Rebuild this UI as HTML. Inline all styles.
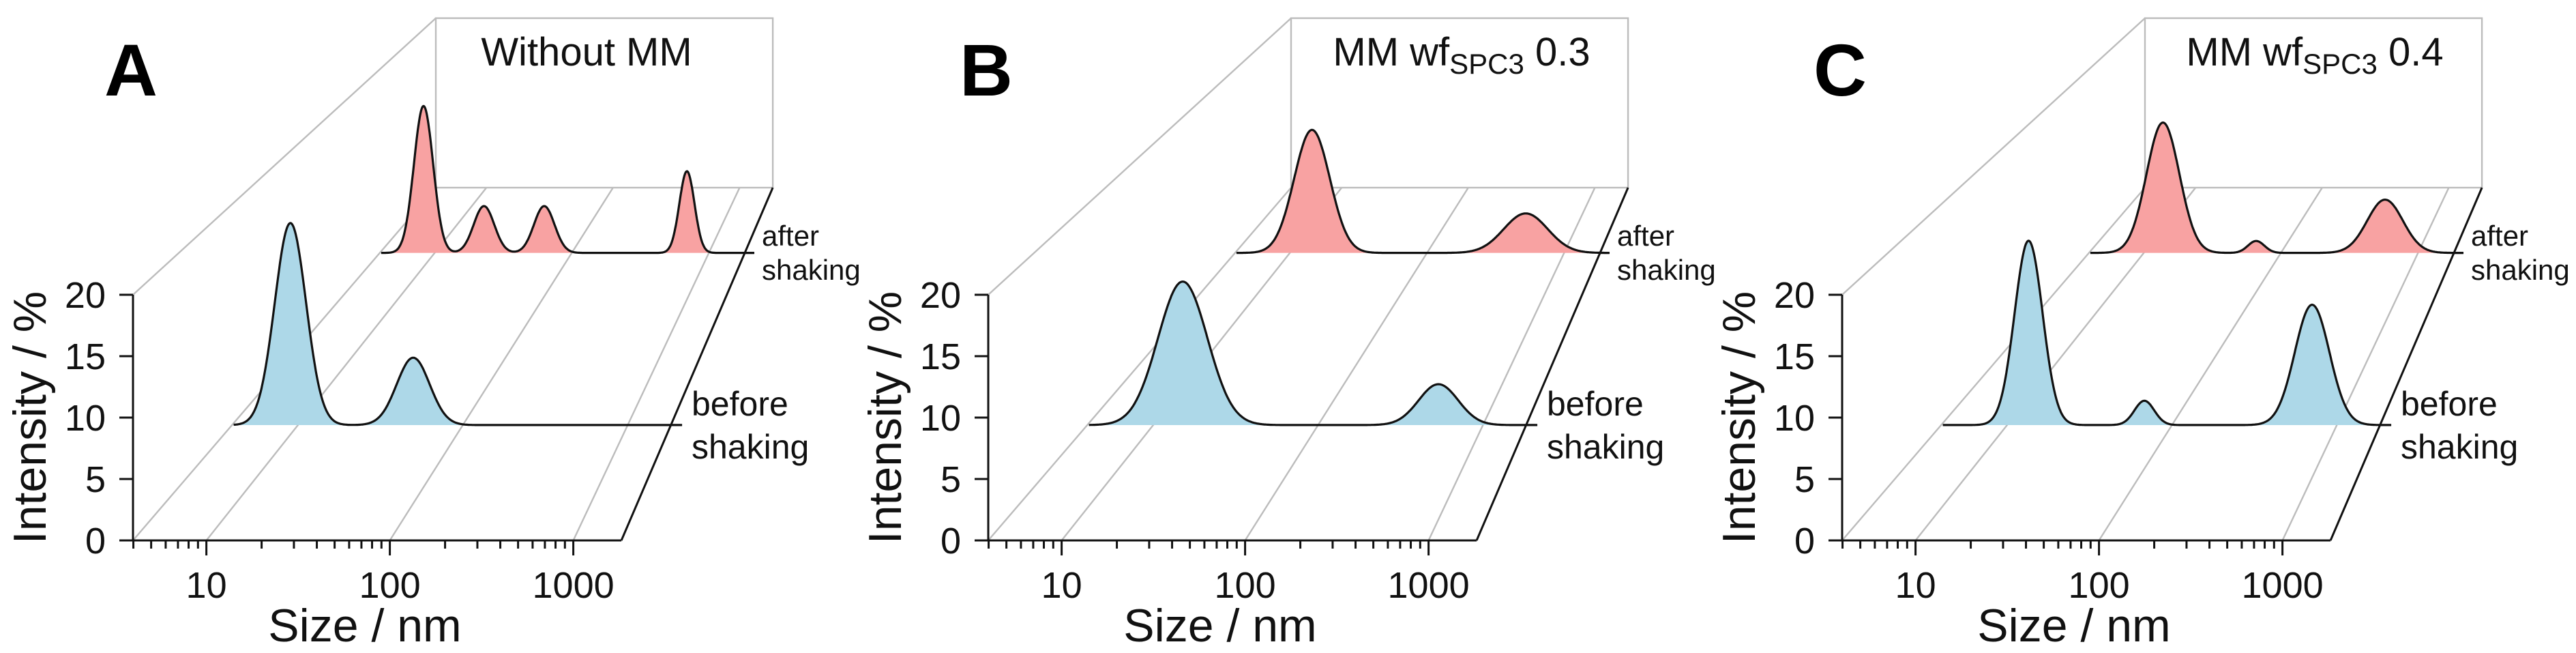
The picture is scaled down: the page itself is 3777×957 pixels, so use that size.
<!DOCTYPE html>
<html><head><meta charset="utf-8">
<style>
html,body{margin:0;padding:0;background:#fff;overflow:hidden;}
svg{display:block;font-family:"Liberation Sans",Arial,sans-serif;}
</style></head>
<body>
<svg id="fig" width="3777" height="957" viewBox="0 0 3777 957" xmlns="http://www.w3.org/2000/svg"></svg>
<script>
// Panel data: peak centres (nm), heights (%), widths (decades sigma)
const panelLetters = ["A", "B", "C"];
const panelTitles = ["Without MM", "MM wf", "MM wf"];
const panelTitleSuffix = ["", " 0.3", " 0.4"];
const beforeCenters = [[9.0, 50], [15.1, 537], [13.5, 68, 708]];
const beforeHeights = [[18.3, 6.1], [13.0, 3.7], [16.7, 2.2, 10.9]];
const beforeWidths = [[0.095, 0.1], [0.15, 0.12], [0.085, 0.06, 0.105]];
const afterCenters = [[8.3, 22.9, 63, 692], [14.5, 525], [13.8, 66, 575]];
const afterHeights = [[16.0, 5.1, 5.1, 8.9], [13.4, 4.3], [14.2, 1.3, 5.8]];
const afterWidths = [[0.07, 0.075, 0.075, 0.055], [0.13, 0.16], [0.12, 0.06, 0.13]];
const yTicks = [0, 5, 10, 15, 20];
const xTickLabels = ["10", "100", "1000"];
const xTickValues = [10, 100, 1000];

const NS = "http://www.w3.org/2000/svg";
const svg = document.getElementById("fig");
const panelX = [195, 1449, 2701];
const titleDx = [665, 694, 693];
const LMIN = 0.6, LMAX = 3.262, DEC = 269, Y0 = 792, UNIT = 18.0, DEPTH_Y = 517;
const D_BEFORE = 0.327, D_AFTER = 0.815;

function el(tag, attrs, parent) {
  const e = document.createElementNS(NS, tag);
  for (const k in attrs) e.setAttribute(k, attrs[k]);
  (parent || svg).appendChild(e);
  return e;
}
function proj(X0, lx, z, d) {
  const s = 1 - 0.31 * d;
  return [X0 + d * 444 + (lx - LMIN) * DEC * s, Y0 - d * DEPTH_Y - z * UNIT * s];
}
function seriesPath(X0, centers, heights, widths, d, l0, l1) {
  const pts = [];
  for (let i = 0; i <= 600; i++) {
    const lx = l0 + (l1 - l0) * i / 600;
    let z = 0;
    for (let k = 0; k < centers.length; k++) {
      const c = Math.log10(centers[k]);
      z += heights[k] * Math.exp(-0.5 * Math.pow((lx - c) / widths[k], 2));
    }
    pts.push(proj(X0, lx, z, d));
  }
  return pts;
}

for (let p = 0; p < 3; p++) {
  const X0 = panelX[p];
  const g = el("g", {});
  
  
  const gray = {stroke: "#bcbcbc", "stroke-width": 2.4, fill: "none"};
  const bl = proj(X0, LMIN, 0, 1), br = proj(X0, LMAX, 0, 1), bt = proj(X0, LMIN, 20, 1);
  const back = el("rect", Object.assign({x: bl[0], y: bt[1], width: br[0] - bl[0], height: bl[1] - bt[1]}, gray), g);
  
  
  const ft = proj(X0, LMIN, 20, 0);
  const diag = el("line", Object.assign({x1: ft[0], y1: ft[1], x2: bt[0], y2: bt[1]}, gray), g);
  
  
  const gl = [LMIN, 1, 2, 3];
  for (const lx of gl) {
    const a = proj(X0, lx, 0, 0), b = proj(X0, lx, 0, 1);
    const ln = el("line", Object.assign({x1: a[0], y1: a[1], x2: b[0], y2: b[1]}, gray), g);
    
    
  }
  const r0 = proj(X0, LMAX, 0, 0), r1 = proj(X0, LMAX, 0, 1);
  const re = el("line", {x1: r0[0], y1: r0[1], x2: r1[0], y2: r1[1], stroke: "#111", "stroke-width": 3}, g);
  
  
  for (const dd of [D_BEFORE, D_AFTER]) {
    const q = proj(X0, LMAX, 0, dd);
    const tk = el("line", {x1: q[0], y1: q[1], x2: q[0] + 14, y2: q[1], stroke: "#111", "stroke-width": 3}, g);
    
    
  }
  const series = [
    {c: afterCenters[p], h: afterHeights[p], w: afterWidths[p], d: D_AFTER, fill: "#f8a2a2", name: "after-shaking-series"},
    {c: beforeCenters[p], h: beforeHeights[p], w: beforeWidths[p], d: D_BEFORE, fill: "#add8e8", name: "before-shaking-series"}
  ];
  for (const s of series) {
    const pts = seriesPath(X0, s.c, s.h, s.w, s.d, 0.61, 3.33);
    const line = pts.map((q, i) => (i ? "L" : "M") + q[0].toFixed(1) + " " + q[1].toFixed(1)).join("");
    const a = proj(X0, 0.61, 0, s.d), b = proj(X0, 3.33, 0, s.d);
    const f = el("path", {d: line + "L" + b[0] + " " + b[1] + "L" + a[0] + " " + a[1] + "Z", fill: s.fill, stroke: "none"}, g);
    
    
    const l = el("path", {d: line, fill: "none", stroke: "#111", "stroke-width": 3.2, "stroke-linejoin": "round"}, g);
    
    
  }
  const ya = el("line", {x1: X0, y1: Y0 + 1, x2: X0, y2: proj(X0, LMIN, 20, 0)[1], stroke: "#111", "stroke-width": 3}, g);
  
  
  for (const t of yTicks) {
    const y = Y0 - t * UNIT;
    const tk = el("line", {x1: X0 - 20, y1: y, x2: X0, y2: y, stroke: "#111", "stroke-width": 3}, g);
    
    
    const tx = el("text", {x: X0 - 40, y: y + 19, "font-size": 54, "text-anchor": "end", fill: "#111"}, g);
    tx.textContent = t;
    
    
  }
  const yt = el("text", {x: 0, y: 0, "font-size": 68, "text-anchor": "middle", fill: "#111", transform: "translate(" + (X0 - 128) + " 612) rotate(-90)"}, g);
  yt.textContent = "Intensity / %";
  
  
  const xa = el("line", {x1: X0 - 1, y1: Y0, x2: X0 + (LMAX - LMIN) * DEC, y2: Y0, stroke: "#111", "stroke-width": 3}, g);
  
  
  for (let dec = 1; dec <= 1000; dec *= 10) {
    for (let m = 1; m <= 9; m++) {
      const v = dec * m, lx = Math.log10(v);
      if (lx < LMIN - 1e-6 || lx > LMAX) continue;
      const x = X0 + (lx - LMIN) * DEC;
      const major = m === 1;
      const tk = el("line", {x1: x, y1: Y0, x2: x, y2: Y0 + (major ? 22 : 12), stroke: "#111", "stroke-width": 3}, g);
      
      
    }
  }
  for (let i = 0; i < xTickValues.length; i++) {
    const x = X0 + (Math.log10(xTickValues[i]) - LMIN) * DEC;
    const tx = el("text", {x: x, y: 876, "font-size": 54, "text-anchor": "middle", fill: "#111"}, g);
    tx.textContent = xTickLabels[i];
    
    
  }
  const xt = el("text", {x: X0 + 340, y: 940, "font-size": 68, "text-anchor": "middle", fill: "#111"}, g);
  xt.textContent = "Size / nm";
  
  
  const pl = el("text", {x: X0 - 42, y: 140, "font-size": 108, "font-weight": "bold", fill: "#000"}, g);
  pl.textContent = panelLetters[p];
  
  
  const ti = el("text", {x: X0 + titleDx[p], y: 96, "font-size": 58, "text-anchor": "middle", fill: "#111"}, g);
  
  
  if (p === 0) { ti.textContent = panelTitles[p]; }
  else {
    ti.appendChild(document.createTextNode(panelTitles[p]));
    const sub = el("tspan", {"font-size": 42, dy: 12}, ti);
    sub.textContent = "SPC3";
    const rest = el("tspan", {dy: -12}, ti);
    rest.textContent = panelTitleSuffix[p];
  }
  const labs = [["after", "shaking", 922, 360, 410, 42, "after-shaking-label"], ["before", "shaking", 819, 609, 672, 50, "before-shaking-label"]];
  for (const L of labs) {
    const t = el("text", {x: X0 + L[2], y: L[3], "font-size": L[5], fill: "#111"}, g);
    
    
    t.textContent = L[0];
    const t2 = el("text", {x: X0 + L[2], y: L[4], "font-size": L[5], fill: "#111"}, g);
    
    
    t2.textContent = L[1];
  }
}
</script>
</body></html>
